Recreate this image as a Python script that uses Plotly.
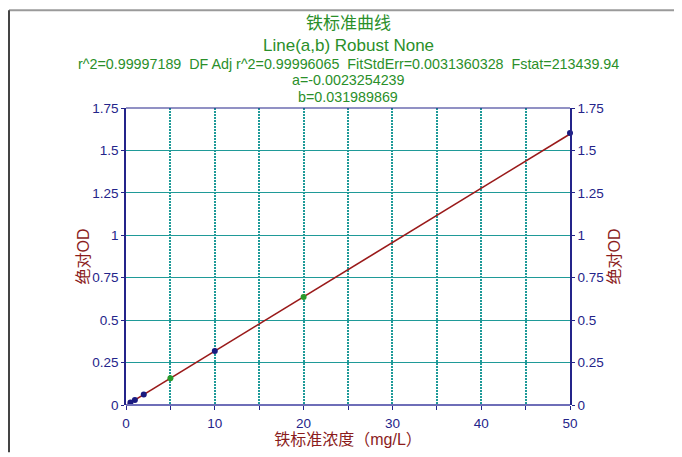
import plotly.graph_objects as go

# ---- data ----
conc = [0, 0.5, 1, 2, 5, 10, 20, 50]
od = [-0.002, 0.014, 0.029, 0.062, 0.157, 0.318, 0.637, 1.603]
point_colors = ["#1a1a80", "#1a1a80", "#1a1a80", "#1a1a80", "#2a9a2a", "#1a1a80", "#2a9a2a", "#1a1a80"]
fit_x = [0, 50]
fit_y = [-0.0023, 1.597]
y_ticks = [0, 0.25, 0.5, 0.75, 1, 1.25, 1.5, 1.75]
y_ticktext = ["0", "0.25", "0.5", "0.75", "1", "1.25", "1.5", "1.75"]
x_ticks = [0, 5, 10, 15, 20, 25, 30, 35, 40, 45, 50]
x_ticktext = ["0", "", "10", "", "20", "", "30", "", "40", "", "50"]

NB = "\u00a0"
title1 = "铁标准曲线"
title2 = "Line(a,b) Robust None"
title3 = ("r^2=0.99997189 " + NB + "DF Adj r^2=0.99996065 " + NB +
          "FitStdErr=0.0031360328 " + NB + "Fstat=213439.94")
title4 = "a=-0.0023254239"
title5 = "b=0.031989869"
x_title = "铁标准浓度（mg/L）"
y_title = "绝对OD"

FONT = "Liberation Sans, Arial, Noto Sans CJK SC"
NAVY = "#24248a"
GREEN = "#2a8f2a"
DARKRED = "#8b1c1c"
TEAL = "#1f9a98"

# page has an 8px body offset; geometry below is in div pixels
OFF = 8
W, H = 682 - OFF, 457 - OFF
L, T = 126 - OFF, 108 - OFF
pw, ph = 444, 301
R, B = W - L - pw, H - T - ph

def px_x(p):
    return (p - OFF - L) / pw

def px_y(p):
    return (T + ph - (p - OFF)) / ph

fig = go.Figure()
fig.add_trace(go.Scatter(x=fit_x, y=fit_y, mode="lines", line=dict(color="#9a1a1a", width=1.6),
                         showlegend=False, hoverinfo="skip", cliponaxis=False))
fig.add_trace(go.Scatter(x=conc, y=od, mode="markers", marker=dict(color=point_colors, size=6),
                         showlegend=False, cliponaxis=False))
fig.add_trace(go.Scatter(x=fit_x, y=fit_y, mode="lines", line=dict(width=0), opacity=0,
                         yaxis="y2", showlegend=False, hoverinfo="skip"))

fig.update_layout(
    width=W, height=H,
    margin=dict(l=L, r=R, t=T, b=B),
    paper_bgcolor="white", plot_bgcolor="white",
    font=dict(family=FONT, color=NAVY, size=13.5),
    xaxis=dict(range=[0, 50], tickvals=x_ticks, ticktext=x_ticktext,
               showgrid=True, gridcolor=TEAL, griddash="1.5px,1.5px", gridwidth=1.8,
               zeroline=False, showline=False, ticks="outside", ticklen=4,
               ticklabelstandoff=2,
               tickcolor=NAVY, tickfont=dict(size=13.5, color=NAVY),
               title=dict(text=x_title, font=dict(size=16, color=DARKRED), standoff=3)),
    yaxis=dict(range=[0, 1.75], tickvals=y_ticks, ticktext=y_ticktext,
               showgrid=True, gridcolor=TEAL, gridwidth=1.2,
               zeroline=False, showline=True, linecolor=NAVY, linewidth=1.5,
               ticks="outside", ticklen=3, tickcolor=NAVY,
               tickfont=dict(size=13.5, color=NAVY)),
    yaxis2=dict(range=[0, 1.75], tickvals=y_ticks, ticktext=y_ticktext,
                overlaying="y", side="right", showgrid=False, zeroline=False,
                showline=True, linecolor=NAVY, linewidth=1.5,
                ticks="outside", ticklen=3, tickcolor=NAVY,
                tickfont=dict(size=13.5, color=NAVY)),
)

shapes = [
    dict(type="line", xref="paper", yref="paper", x0=0, x1=1, y0=0, y1=0,
         line=dict(color="#6e6eb8", width=2)),
    dict(type="line", xref="paper", yref="paper", x0=0, x1=1, y0=1, y1=1,
         line=dict(color=NAVY, width=1.2)),
    dict(type="line", xref="paper", yref="paper", x0=px_x(9), x1=px_x(682), y0=px_y(9), y1=px_y(9),
         line=dict(color="#9a9a9a", width=2)),
    dict(type="line", xref="paper", yref="paper", x0=px_x(9), x1=px_x(9), y0=px_y(9), y1=px_y(457),
         line=dict(color="#444444", width=2)),
]
fig.update_layout(shapes=shapes)

ann = [
    (title1, 22, 17),
    (title2, 45, 17),
    (title3, 63, 14.3),
    (title4, 80, 14.3),
    (title5, 97, 14.3),
]
annotations = [
    dict(text=t, xref="paper", yref="paper", x=0.5, y=px_y(yp), xanchor="center", yanchor="middle",
         showarrow=False, font=dict(family=FONT, size=s, color=GREEN))
    for t, yp, s in ann
]
for xp in (83, 614):
    annotations.append(dict(text=y_title, xref="paper", yref="paper", x=px_x(xp), y=0.5,
                            xanchor="center", yanchor="middle", textangle=-90, showarrow=False,
                            font=dict(family=FONT, size=16, color=DARKRED)))
fig.update_layout(annotations=annotations)

fig.write_html("out.html")
